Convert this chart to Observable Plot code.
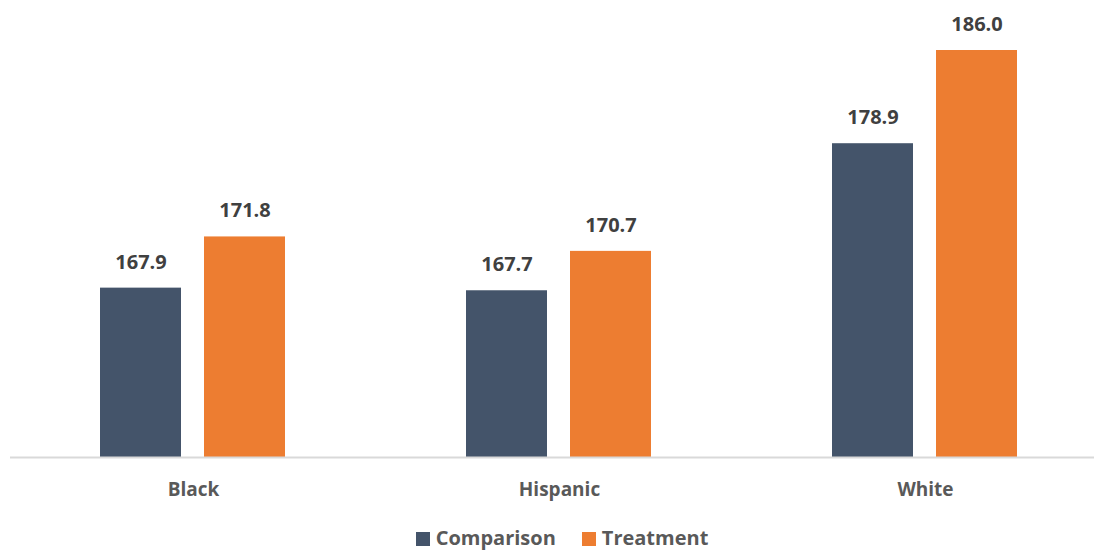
<!DOCTYPE html>
<html>
<head>
<meta charset="utf-8">
<script src="https://cdn.jsdelivr.net/npm/d3@7"></script>
<script src="https://cdn.jsdelivr.net/npm/@observablehq/plot@0.6"></script>
<style>
  html, body { margin: 0; padding: 0; background: #fff; overflow: hidden; }
  #chart { width: 1094px; }
  .legend { display: flex; justify-content: center; align-items: center; gap: 26px;
            height: 24px; line-height: 24px; font-family: "Open Sans", sans-serif; font-weight: 700;
            font-size: 20px; color: #595959; margin-left: 30px; }
  .legend span.sw { display: inline-block; width: 14px; height: 14px; margin-right: 6px; vertical-align: -1px; }
</style>
</head>
<body>
<div id="chart"></div>
<script>
// Mean values by group and condition
const groups = ["Black", "Hispanic", "White"];
const series = ["Comparison", "Treatment"];
const comparison = [167.9, 167.7, 178.9];
const treatment = [171.8, 170.7, 186.0];
const colors = ["#44546A", "#ED7D31"];

const rows = groups.flatMap((g, i) => [
  {group: g, series: series[0], value: comparison[i]},
  {group: g, series: series[1], value: treatment[i]}
]);

const font = "Open Sans, sans-serif";

const chart = Plot.plot({
  width: 1094,
  height: 526,
  marginTop: 50,
  marginBottom: 69,
  marginLeft: 10,
  marginRight: 0,
  style: {fontFamily: font, background: "#fff"},
  fx: {domain: groups, range: [10, 1108], padding: 0, label: null},
  x: {domain: series, paddingInner: 0.22, paddingOuter: 0.86, axis: null},
  y: {domain: [155, 186], axis: null},
  color: {domain: series, range: colors},
  marks: [
    Plot.barY(rows, {fx: "group", x: "series", y1: 155, y2: "value", fill: "series"}),
    Plot.ruleY([155], {stroke: "#d9d9d9", strokeWidth: 2}),
    Plot.text(rows, {fx: "group", x: "series", y: "value", text: d => d.value.toFixed(1),
      dy: -26, fontSize: 20, fontWeight: 700, fill: "#404040"}),
    Plot.axisFx({anchor: "bottom", tickSize: 0, tickPadding: 25, fontSize: 19,
      fontWeight: 700, fill: "#595959", label: null})
  ]
});
document.getElementById("chart").appendChild(chart);

// Legend below the plot
const legend = document.createElement("div");
legend.className = "legend";
series.forEach((s, i) => {
  const item = document.createElement("div");
  const sw = document.createElement("span");
  sw.className = "sw";
  sw.style.background = colors[i];
  item.appendChild(sw);
  item.appendChild(document.createTextNode(s));
  legend.appendChild(item);
});
document.getElementById("chart").appendChild(legend);
</script>
</body>
</html>
